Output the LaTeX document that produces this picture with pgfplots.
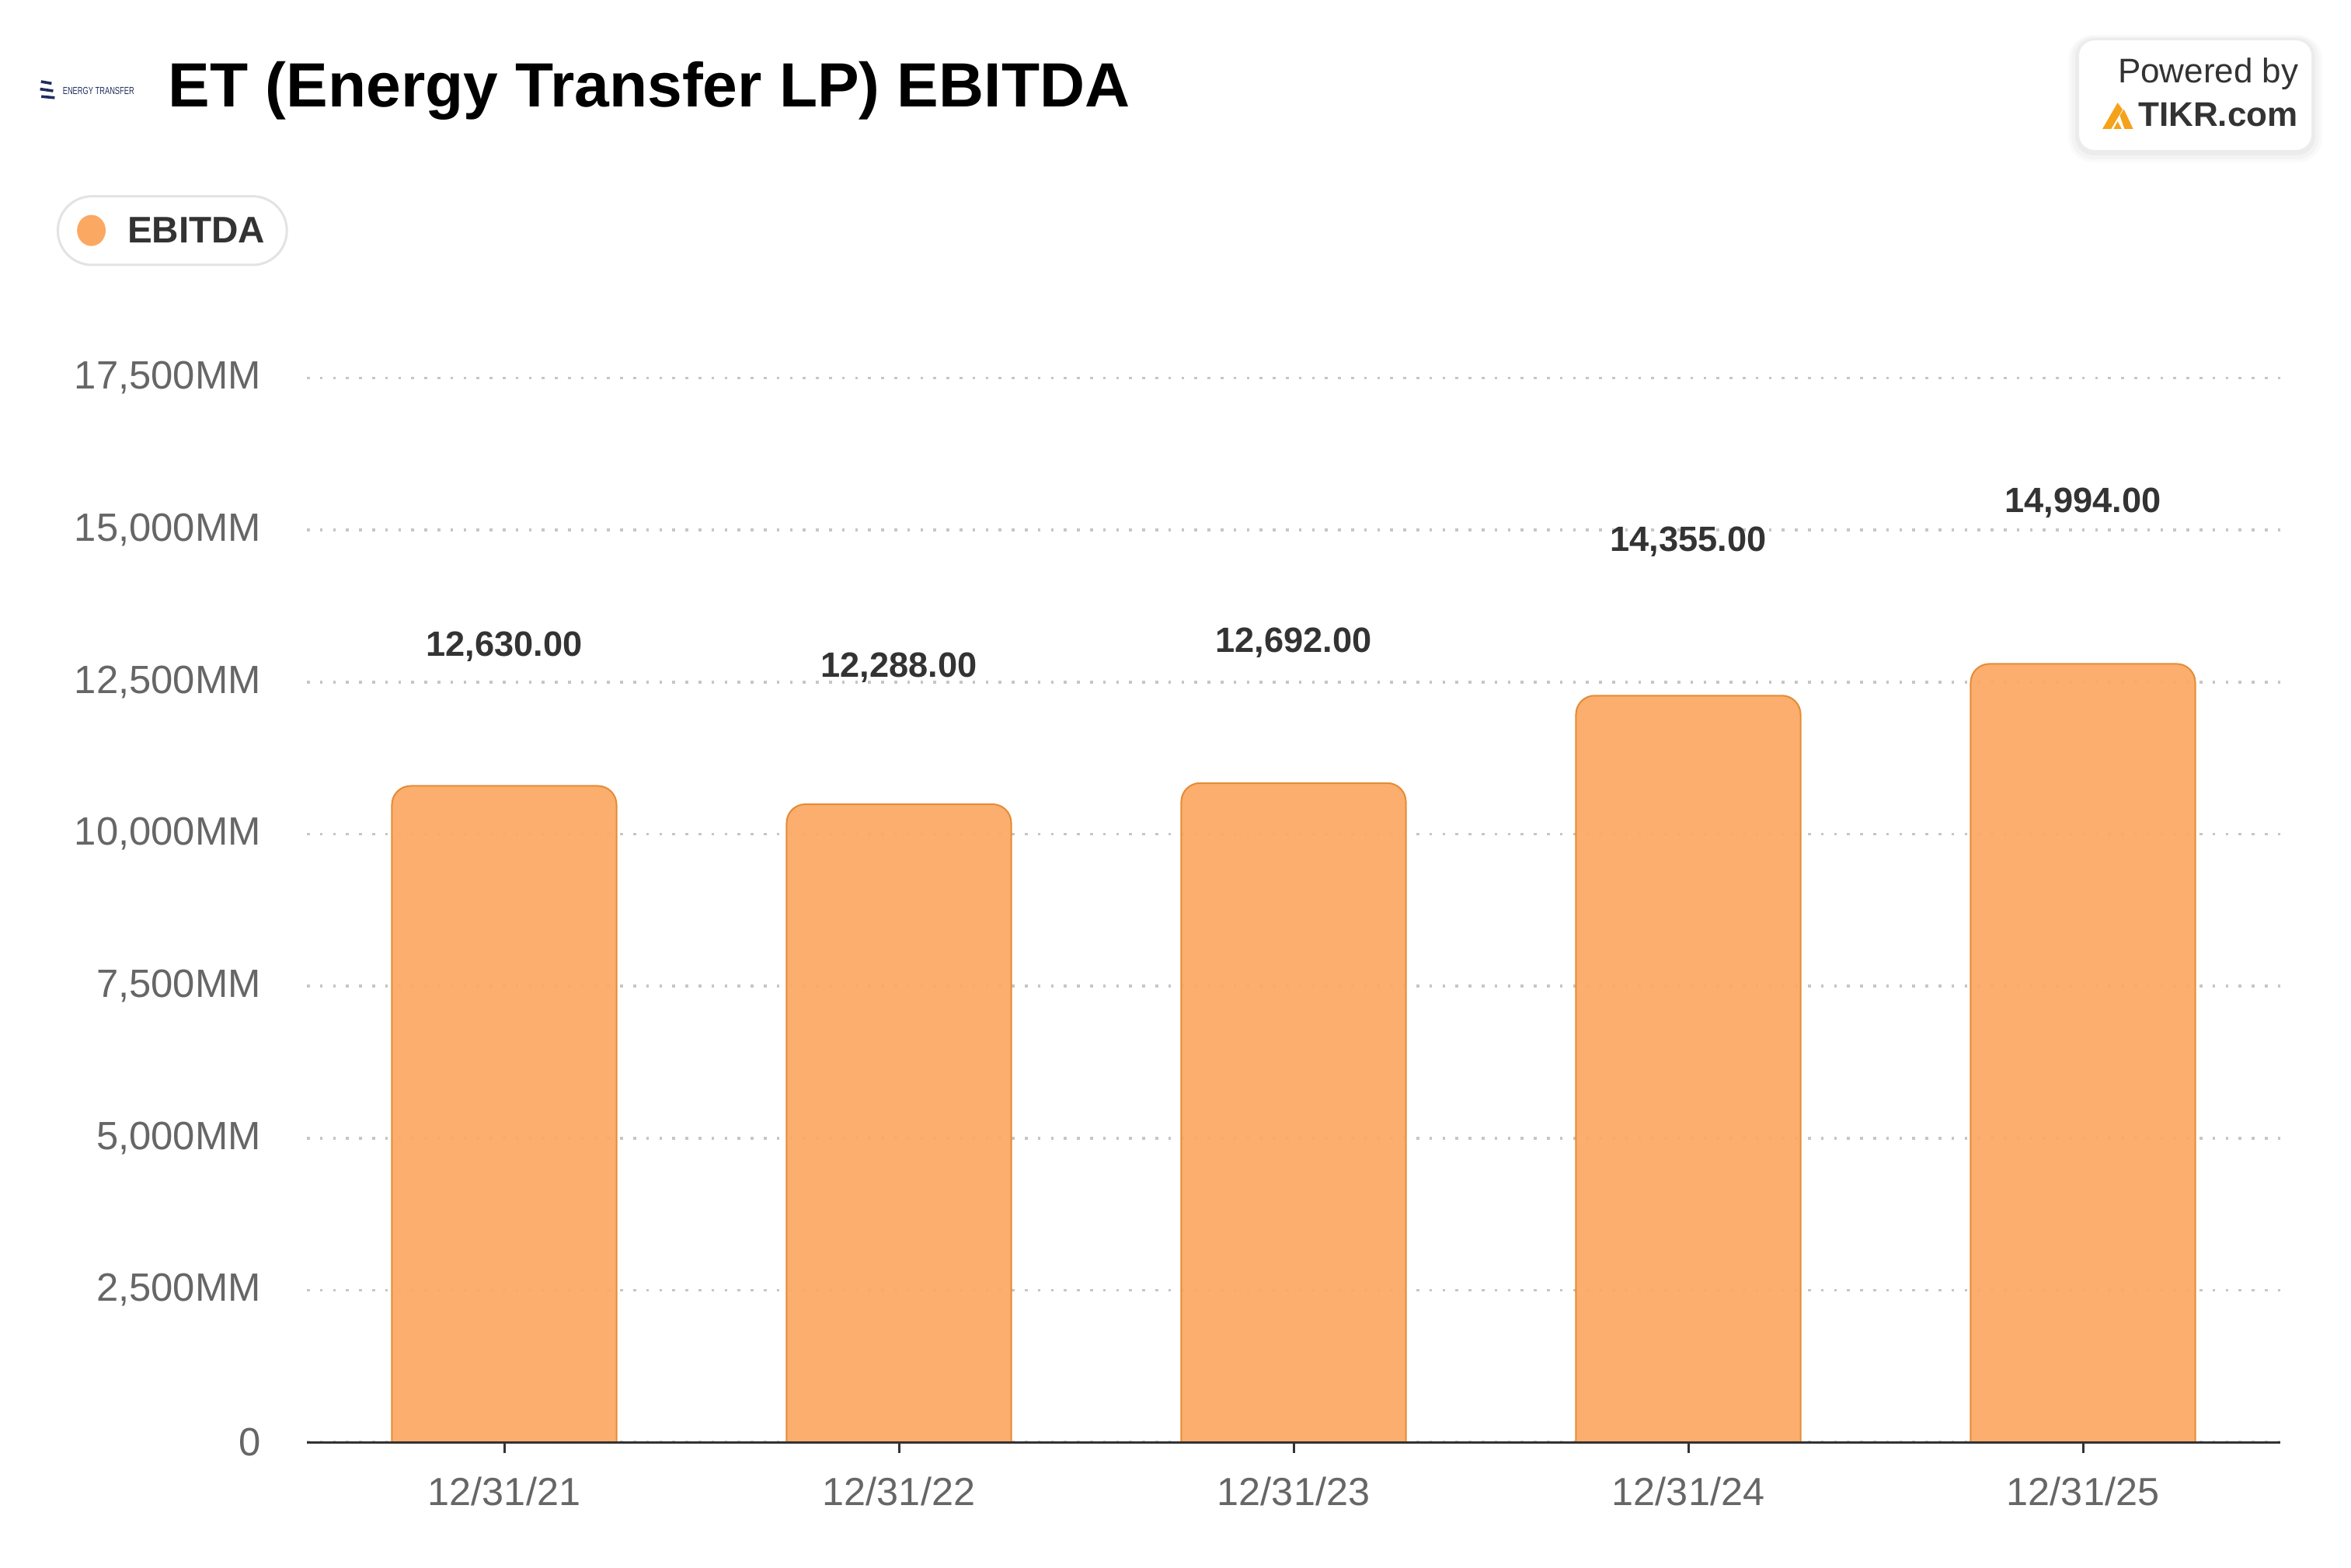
\documentclass[border=0pt]{standalone}
\usepackage{fontspec}
\setmainfont{Liberation Sans}
\usepackage{graphicx}
\usepackage{pgfplots}
\pgfplotsset{compat=1.18}
\definecolor{barfill}{HTML}{FBA862}
\definecolor{barline}{HTML}{E58B35}
\definecolor{txtdark}{HTML}{333333}
\definecolor{txtgray}{HTML}{666666}
\definecolor{gridgray}{HTML}{C6C6C6}
\definecolor{pillline}{HTML}{E3E3E3}
\definecolor{tikrorange}{HTML}{F5A21B}
\definecolor{etnavy}{HTML}{1E2D5E}
\begin{document}
\begin{tikzpicture}
\path[use as bounding box] (0,0) rectangle (756.5pt,504.25pt);
\begin{axis}[
  at={(98.75pt,40.25pt)}, anchor=south west,
  scale only axis, width=635pt, height=342.4pt,
  xmin=-0.5, xmax=4.5, ymin=0, ymax=17500,
  clip=false,
  scaled y ticks=false,
  axis lines*=left,
  y axis line style={draw=none},
  x axis line style={draw=txtdark, line width=0.75pt},
  ytick={0,2500,5000,7500,10000,12500,15000,17500},
  yticklabels={0,{2,500MM},{5,000MM},{7,500MM},{10,000MM},{12,500MM},{15,000MM},{17,500MM}},
  xtick={0,1,2,3,4},
  xticklabels={12/31/21,12/31/22,12/31/23,12/31/24,12/31/25},
  tick align=outside,
  major tick length=3.5pt,
  ytick style={draw=none},
  xtick style={draw=txtdark, line width=0.75pt},
  ymajorgrids,
  major grid style={draw=gridgray, line width=0.9pt, dash pattern=on 0.9pt off 3.3pt},
  yticklabel style={font=\fontsize{12.7}{15}\selectfont, text=txtgray, anchor=east, inner sep=0pt, xshift=-11.1pt},
  xticklabel style={font=\fontsize{12.6}{15}\selectfont, text=txtgray, anchor=base, inner sep=0pt, yshift=-16.8pt},
]
\addplot[fill=barfill, fill opacity=0.93, draw=barline, line width=0.5pt, rounded corners=6pt] coordinates {(-0.2845,0) (-0.2845,10791) (0.2845,10791) (0.2845,0)};
\addplot[fill=barfill, fill opacity=0.93, draw=barline, line width=0.5pt, rounded corners=6pt] coordinates {(0.7155,0) (0.7155,10490) (1.2845,10490) (1.2845,0)};
\addplot[fill=barfill, fill opacity=0.93, draw=barline, line width=0.5pt, rounded corners=6pt] coordinates {(1.7155,0) (1.7155,10838) (2.2845,10838) (2.2845,0)};
\addplot[fill=barfill, fill opacity=0.93, draw=barline, line width=0.5pt, rounded corners=6pt] coordinates {(2.7155,0) (2.7155,12276) (3.2845,12276) (3.2845,0)};
\addplot[fill=barfill, fill opacity=0.93, draw=barline, line width=0.5pt, rounded corners=6pt] coordinates {(3.7155,0) (3.7155,12798) (4.2845,12798) (4.2845,0)};
\addplot[draw=none, nodes near coords, point meta=explicit symbolic,
  nodes near coords style={anchor=base, yshift=5.7pt, inner sep=0pt, font=\bfseries\fontsize{11.3}{13}\selectfont, text=txtdark}]
  table[meta=lab] {
x y lab
0 12630 12,630.00
1 12288 12,288.00
2 12692 12,692.00
3 14355 14,355.00
4 14994 14,994.00
};
\draw[txtdark, line width=0.75pt] (axis cs:-0.5,0) -- (axis cs:4.5,0);
\end{axis}
% title
\node[anchor=base west, inner sep=0pt, font=\bfseries\fontsize{20.1}{24}\selectfont, text=black] at (54pt,469.75pt) {ET (Energy Transfer LP) EBITDA};
% company logo
\draw[etnavy, line width=0.9pt] (13.2pt,478pt) -- (16.6pt,477.4pt);
\draw[etnavy, line width=0.9pt] (12.9pt,475.6pt) -- (17.1pt,475pt);
\draw[etnavy, line width=0.9pt] (13.3pt,473.2pt) -- (17.6pt,472.8pt);
\node[anchor=west, inner sep=0pt, text=etnavy] at (20pt,475pt) {\resizebox{23pt}{2.3pt}{ENERGY TRANSFER}};
% legend pill
\draw[pillline, line width=0.75pt, fill=white, rounded corners=11pt] (18.6pt,419pt) rectangle (92.3pt,441.1pt);
\fill[barfill] (29.4pt,430.1pt) ellipse (4.6pt and 5pt);
\node[anchor=base west, inner sep=0pt, font=\bfseries\fontsize{11.9}{14}\selectfont, text=txtdark] at (40.8pt,426pt) {EBITDA};
% TIKR box
\fill[black,opacity=0.02,rounded corners=8pt] (665.5pt,452pt) rectangle (747.25pt,493pt);
\fill[black,opacity=0.025,rounded corners=7pt] (666.5pt,453pt) rectangle (746.25pt,492.5pt);
\fill[black,opacity=0.03,rounded corners=6pt] (667.75pt,454.25pt) rectangle (745pt,492pt);
\fill[white, rounded corners=5pt] (669pt,456pt) rectangle (743.75pt,491.25pt);
\node[anchor=base east, inner sep=0pt, font=\fontsize{11}{13}\selectfont, text=txtdark] at (739.8pt,477.5pt) {Powered by};
\node[anchor=base east, inner sep=0pt, font=\bfseries\fontsize{11}{13}\selectfont, text=txtdark] at (739.6pt,463.5pt) {TIKR.com};
\fill[tikrorange] (676.5pt,462.75pt) -- (679.3pt,462.75pt) -- (683pt,469pt) -- (681.4pt,471.2pt) -- cycle;
\fill[tikrorange] (682.1pt,467.1pt) -- (683.4pt,469.1pt) -- (686.4pt,462.75pt) -- (683.6pt,462.75pt) -- cycle;
\fill[tikrorange] (680.1pt,462.75pt) -- (682.7pt,462.75pt) -- (681.4pt,465.2pt) -- cycle;
\end{tikzpicture}
\end{document}
